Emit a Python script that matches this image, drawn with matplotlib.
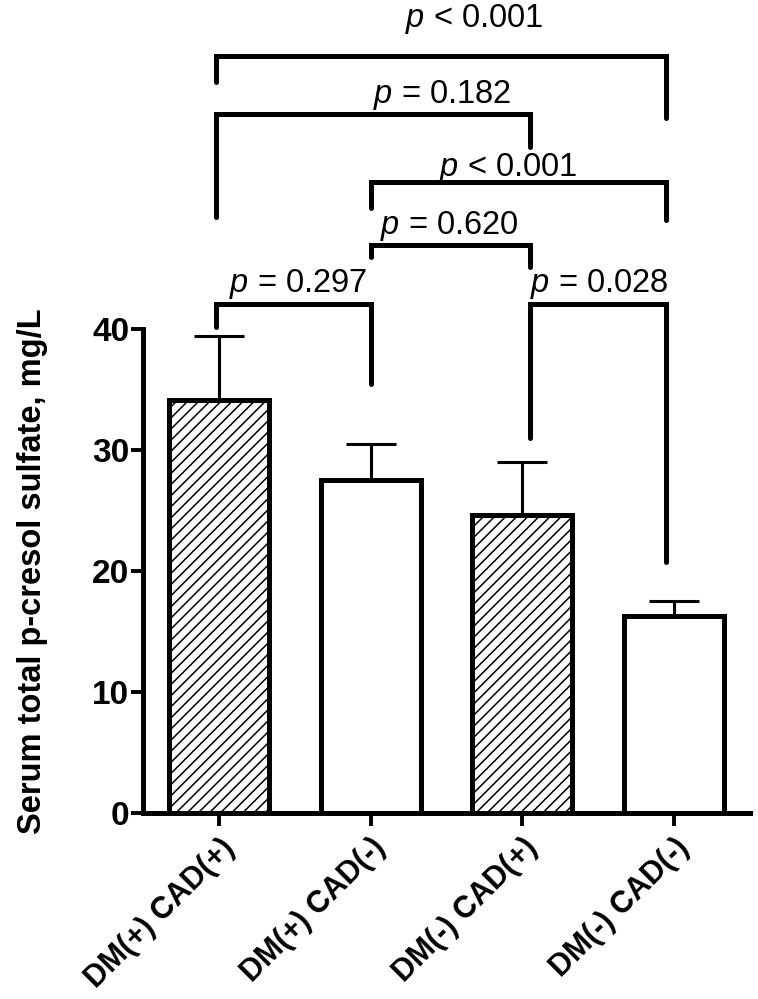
import numpy as np
import matplotlib
matplotlib.use("Agg")
import matplotlib.pyplot as plt

plt.rcParams['font.family'] = ['Liberation Sans', 'DejaVu Sans']
plt.rcParams['mathtext.fontset'] = 'custom'
plt.rcParams['mathtext.it'] = 'Liberation Sans:italic'
plt.rcParams['mathtext.rm'] = 'Liberation Sans'
plt.rcParams['hatch.linewidth'] = 1.1

# data
groups = ['DM(+) CAD(+)', 'DM(+) CAD(-)', 'DM(-) CAD(+)', 'DM(-) CAD(-)']
means = [34.1, 27.5, 24.6, 16.3]
sem = [5.3, 3.0, 4.4, 1.2]
hatches = ['///', '', '///', '']

# pairwise comparisons
pairs = [(0, 1), (2, 3), (1, 2), (1, 3), (0, 2), (0, 3)]
p_text = ['= 0.297', '= 0.028', '= 0.620', '< 0.001', '= 0.182', '< 0.001']
bracket_y = [42.0, 42.0, 46.9, 52.1, 57.7, 62.5]
leg_ends = [(40.1, 35.4), (31.0, 20.7), (45.9, 45.1), (50.0, 49.0), (49.2, 55.0), (60.4, 57.4)]
label_x = [0.52, 2.51, 1.52, 1.91, 1.47, 1.68]
label_y = [43.0, 43.0, 47.8, 52.6, 58.6, 64.9]
leg_x = [-0.02, 1.0, 2.05, 2.95]

fig = plt.figure(figsize=(7.58, 9.99), dpi=100)
ax = fig.add_axes([0.189, 0.186, 0.800, 0.485])

x = np.arange(len(groups))
ax.bar(x, means, width=0.66, color='white', edgecolor='black', linewidth=3.6,
       hatch=hatches, zorder=2)
ax.errorbar(x, means, yerr=[np.zeros(len(sem)), sem], fmt='none', ecolor='black',
            elinewidth=2.2, capsize=18, capthick=2.2, zorder=1)

for (i, j), txt, yb, (e1, e2), tx, ty in zip(pairs, p_text, bracket_y, leg_ends, label_x, label_y):
    ax.plot([leg_x[i], leg_x[i], leg_x[j], leg_x[j]], [e1, yb, yb, e2], color='black',
            lw=3.6, solid_capstyle='round', solid_joinstyle='miter', clip_on=False)
    ax.text(tx, ty, r'$\mathit{p}$ ' + txt, ha='center', va='baseline', fontsize=23.5,
            clip_on=False)

ax.set_xlim(-0.5, 3.5)
ax.set_ylim(0, 40)
ax.set_yticks([0, 10, 20, 30, 40])
ax.set_xticks(x)
ax.set_xticklabels(groups, rotation=45, ha='right', rotation_mode='anchor',
                   fontsize=22, fontweight='bold')
for lab in ax.get_yticklabels():
    lab.set_fontweight('bold')
ax.tick_params(axis='y', labelsize=24, width=2.8, length=9, pad=1)
ax.tick_params(axis='x', width=2.8, length=9, pad=5)
ax.spines['top'].set_visible(False)
ax.spines['right'].set_visible(False)
ax.spines['left'].set_linewidth(3.6)
ax.spines['bottom'].set_linewidth(3.6)
ax.set_ylabel('Serum total p-cresol sulfate, mg/L', fontsize=23.5, fontweight='bold',
              labelpad=32)

fig.savefig('out.png', dpi=100)
